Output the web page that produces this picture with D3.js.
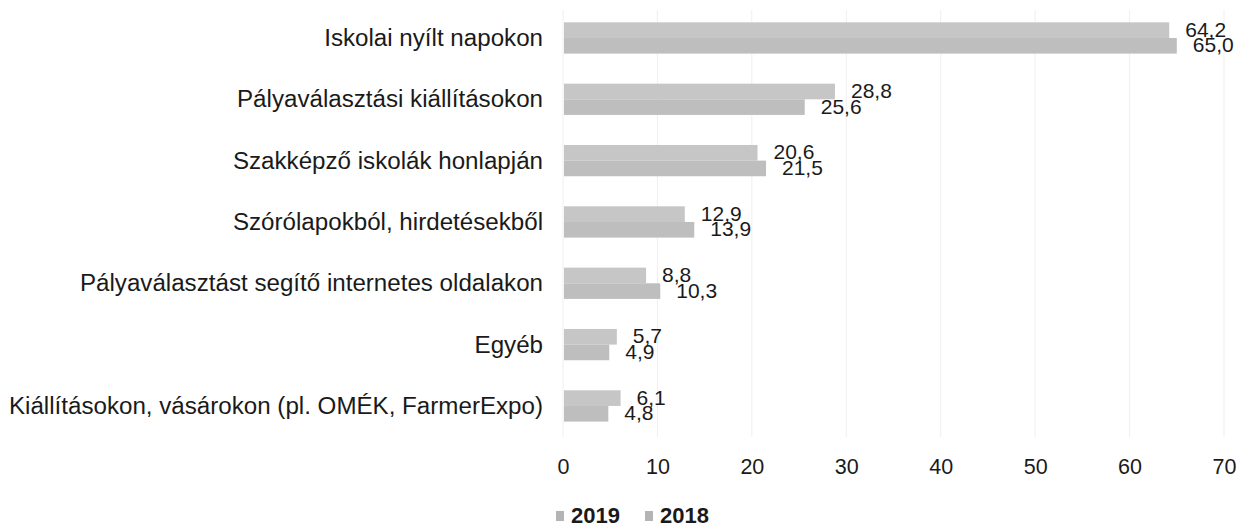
<!DOCTYPE html>
<html>
<head>
<meta charset="utf-8">
<script src="https://cdn.jsdelivr.net/npm/d3@7"></script>
<style>
  html, body { margin: 0; padding: 0; background: #ffffff; }
  svg { display: block; }
  text { font-family: "Liberation Sans", Arial, sans-serif; fill: #1a1a1a; }
</style>
</head>
<body>
<svg id="chart" width="1239" height="527"></svg>
<script>
const categories = [
  "Iskolai nyílt napokon",
  "Pályaválasztási kiállításokon",
  "Szakképző iskolák honlapján",
  "Szórólapokból, hirdetésekből",
  "Pályaválasztást segítő internetes oldalakon",
  "Egyéb",
  "Kiállításokon, vásárokon (pl. OMÉK, FarmerExpo)"
];
const seriesNames = ["2019", "2018"];
const values2019 = [64.2, 28.8, 20.6, 12.9, 8.8, 5.7, 6.1];
const values2018 = [65.0, 25.6, 21.5, 13.9, 10.3, 4.9, 4.8];
const tickValues = [0, 10, 20, 30, 40, 50, 60, 70];

const seriesValues = { "2019": values2019, "2018": values2018 };
const colors = { "2019": "#c6c6c6", "2018": "#bebebe" };

const svg = d3.select("#chart");
const locale = d3.formatLocale({ decimal: ",", thousands: " ", grouping: [3], currency: ["", ""] });
const fmt = locale.format(".1f");

const x = d3.scaleLinear().domain([0, 70]).range([563, 1224]);
const y = d3.scaleBand().domain(categories).range([7.3, 436.6]).paddingInner(0.49).paddingOuter(0.245);
const ySub = d3.scaleBand().domain(seriesNames).range([0, y.bandwidth()]);

// gridlines
svg.append("g").selectAll("line").data(tickValues).join("line")
  .attr("x1", d => x(d)).attr("x2", d => x(d))
  .attr("y1", 10).attr("y2", 437)
  .attr("stroke", "#efefef").attr("stroke-width", 1);

// x axis tick labels
const xAxis = d3.axisBottom(x).tickValues(tickValues).tickSize(0).tickPadding(0).tickFormat(d3.format("d"));
const gx = svg.append("g").attr("transform", "translate(0,474)").call(xAxis);
gx.select(".domain").remove();
gx.selectAll("text").attr("dy", 0).attr("y", 0)
  .style("font-size", "21.5px").style("fill", "#1a1a1a")
  .style("font-family", "'Liberation Sans', Arial, sans-serif");

// category labels
const yAxis = d3.axisLeft(y).tickSize(0).tickPadding(0);
const gy = svg.append("g").attr("transform", "translate(543,0) scale(1.05,1)").call(yAxis);
gy.select(".domain").remove();
gy.selectAll("text").attr("dy", "0.35em")
  .style("font-size", "23px").style("fill", "#1a1a1a")
  .style("font-family", "'Liberation Sans', Arial, sans-serif");

// bars
const groups = svg.append("g").selectAll("g").data(categories).join("g")
  .attr("transform", d => `translate(0,${y(d)})`);

groups.selectAll("rect")
  .data((c, i) => seriesNames.map(s => ({ s, v: seriesValues[s][i] })))
  .join("rect")
  .attr("x", x(0) + 1)
  .attr("y", d => ySub(d.s))
  .attr("width", d => x(d.v) - x(0) - 1)
  .attr("height", ySub.bandwidth())
  .attr("fill", d => colors[d.s]);

// value labels
groups.selectAll("text.val")
  .data((c, i) => seriesNames.map(s => ({ s, v: seriesValues[s][i] })))
  .join("text")
  .attr("class", "val")
  .attr("x", d => x(d.v) + 16)
  .attr("y", d => ySub(d.s) + ySub.bandwidth() / 2 + 6.5)
  .style("font-size", "21px")
  .text(d => fmt(d.v));

// legend
const legend = svg.append("g");
const legendX = [556, 645];
seriesNames.forEach((s, i) => {
  legend.append("rect")
    .attr("x", legendX[i]).attr("y", 511).attr("width", 8).attr("height", 10)
    .attr("fill", "#b4b4b4");
  legend.append("text")
    .attr("x", legendX[i] + 15).attr("y", 523)
    .style("font-size", "22px").style("font-weight", "bold")
    .text(s);
});
</script>
</body>
</html>
